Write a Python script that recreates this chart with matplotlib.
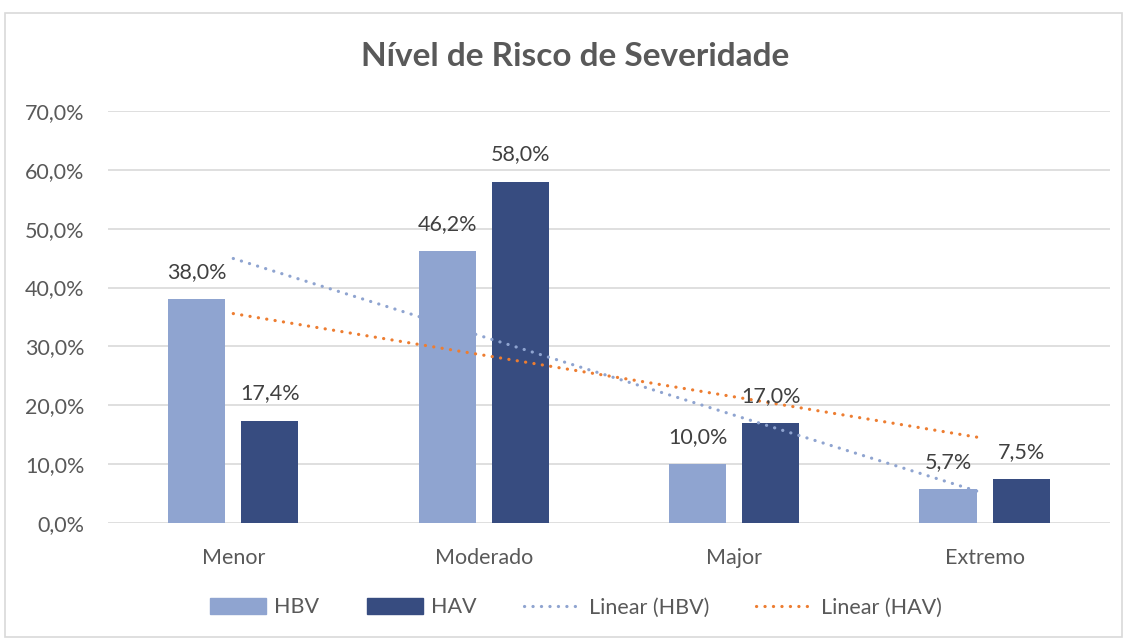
import numpy as np
import matplotlib
matplotlib.use("Agg")
import matplotlib.pyplot as plt
from matplotlib.patches import Rectangle
from matplotlib.lines import Line2D
from matplotlib.patches import Patch

categories = ["Menor", "Moderado", "Major", "Extremo"]
hbv = [38.0, 46.2, 10.0, 5.7]
hav = [17.4, 58.0, 17.0, 7.5]
yticks = [0, 10, 20, 30, 40, 50, 60, 70]

c_hbv = "#8FA4D0"
c_hav = "#374C80"
c_orange = "#ED7D31"
txt = "#595959"
dots = (0, (0.05, 2.6))

plt.rcParams["font.family"] = ["Lato", "DejaVu Sans"]

fig = plt.figure(figsize=(11.29, 6.4), dpi=100)
fig.patches.append(Rectangle((0.004, 0.005), 0.990, 0.975, transform=fig.transFigure,
                             fill=False, edgecolor="#d9d9d9", linewidth=1.2))
ax = fig.add_axes([0.0957, 0.1828, 0.8873, 0.6438])

x = np.arange(len(categories))
w = 0.228
off = 0.146
b1 = ax.bar(x - off, hbv, w, color=c_hbv, zorder=2)
b2 = ax.bar(x + off, hav, w, color=c_hav, zorder=2)

for bars, vals in ((b1, hbv), (b2, hav)):
    for r, v in zip(bars, vals):
        ax.text(r.get_x() + r.get_width() / 2, v + 2.9, f"{v:.1f}%".replace(".", ","),
                ha="center", va="bottom", fontsize=15.5, color="#404040", zorder=4)

# linear trendlines (least squares over category index)
xs = np.arange(1, len(categories) + 1)
for vals, col in ((hbv, c_hbv), (hav, c_orange)):
    k, b = np.polyfit(xs, vals, 1)
    ax.plot(x, k * xs + b, color=col, linestyle=dots, linewidth=2.3,
            dash_capstyle="round", zorder=3)

ax.set_xlim(-0.5, len(categories) - 0.5)
ax.set_ylim(0, 70)
ax.set_yticks(yticks)
ax.set_yticklabels([f"{t:.1f}%".replace(".", ",") for t in yticks])
ax.set_xticks(x)
ax.set_xticklabels(categories)
ax.tick_params(axis="both", length=0, labelsize=15.5, labelcolor=txt)
ax.tick_params(axis="x", pad=18)
ax.tick_params(axis="y", pad=17)
ax.grid(axis="y", color="#d9d9d9", linewidth=1.2, zorder=0)
ax.set_axisbelow(True)
for s in ax.spines.values():
    s.set_visible(False)

fig.text(0.509, 0.911, "Nível de Risco de Severidade", ha="center", va="center",
         fontsize=24, fontweight="bold", color=txt)

handles = [Patch(color=c_hbv, label="HBV"), Patch(color=c_hav, label="HAV"),
           Line2D([], [], color=c_hbv, linestyle=dots, linewidth=2.3,
                  dash_capstyle="round", label="Linear (HBV)"),
           Line2D([], [], color=c_orange, linestyle=dots, linewidth=2.3,
                  dash_capstyle="round", label="Linear (HAV)")]
fig.legend(handles=handles, loc="center", bbox_to_anchor=(0.51, 0.051), ncol=4,
           frameon=False, fontsize=15.5, labelcolor=txt, handlelength=2.6,
           handleheight=0.75, columnspacing=2.2, handletextpad=0.4)

fig.savefig("out.png", dpi=100)
